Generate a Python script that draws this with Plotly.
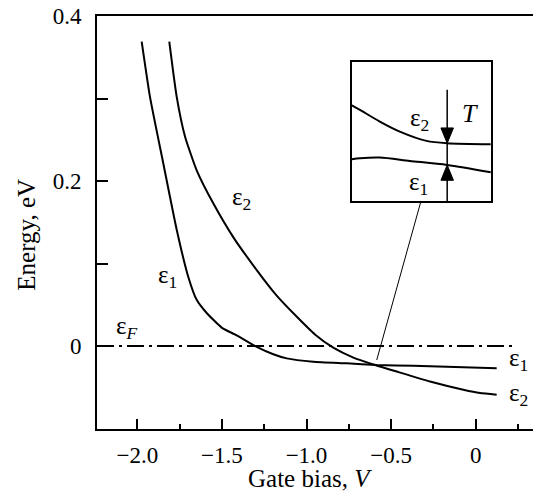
import plotly.graph_objects as go

# ---------------- data ----------------
eps1_x = [-1.974, -1.925, -1.846, -1.767, -1.699, -1.649, -1.590, -1.531, -1.492, -1.413,
          -1.294, -1.196, -1.117, -0.960, -0.762, -0.585, -0.369, 0.124]
eps1_y = [0.369, 0.302, 0.221, 0.141, 0.084, 0.056, 0.040, 0.028, 0.021, 0.013,
          -0.001, -0.010, -0.015, -0.019, -0.021, -0.023, -0.024, -0.027]

eps2_x = [-1.811, -1.767, -1.718, -1.649, -1.551, -1.433, -1.294, -1.180, -1.060, -0.950,
          -0.842, -0.723, -0.595, -0.467, -0.270, -0.073, 0.025, 0.124]
eps2_y = [0.369, 0.302, 0.254, 0.213, 0.173, 0.132, 0.092, 0.062, 0.036, 0.014,
          -0.002, -0.014, -0.023, -0.031, -0.043, -0.053, -0.057, -0.059]

fermi_x = [-2.238, 0.243]
fermi_y = [0.0, 0.0]

# inset (schematic magnification near the anticrossing), unit coordinates
inset_eps2_x = [0.0, 0.058, 0.201, 0.345, 0.537, 0.686, 1.0]
inset_eps2_y = [0.688, 0.655, 0.571, 0.499, 0.432, 0.415, 0.408]
inset_eps1_x = [0.0, 0.058, 0.201, 0.417, 0.686, 1.0]
inset_eps1_y = [0.300, 0.307, 0.312, 0.288, 0.259, 0.206]
inset_T_x = 0.686
inset_T_top = 0.80
inset_T_bottom = 0.0
inset_T_eps2 = 0.415
inset_T_eps1 = 0.259

# leader line from the crossing point to the inset
leader_x = [-0.585, -0.323]
leader_y = [-0.017, 0.176]

x_tickvals = [-2.0, -1.5, -1.0, -0.5, 0.0]
x_ticktext = ["\u22122.0", "\u22121.5", "\u22121.0", "\u22120.5", "0"]
y_tickvals = [0.0, 0.2, 0.4]
y_ticktext = ["0", "0.2", "0.4"]

x_range = [-2.2381, 0.3859]
y_range = [-0.1006, 0.4]

FONT = "Liberation Serif, Times New Roman, serif"
W = 2

fig = go.Figure()

line = dict(color="black", width=W)
fig.add_trace(go.Scatter(x=eps1_x, y=eps1_y, mode="lines", line=dict(line, shape="spline", smoothing=0.5),
                         hoverinfo="skip", showlegend=False))
fig.add_trace(go.Scatter(x=eps2_x, y=eps2_y, mode="lines", line=dict(line, shape="spline", smoothing=0.5),
                         hoverinfo="skip", showlegend=False))
fig.add_trace(go.Scatter(x=fermi_x, y=fermi_y, mode="lines",
                         line=dict(color="black", width=W, dash="17px,5px,3px,5px"),
                         hoverinfo="skip", showlegend=False))
fig.add_trace(go.Scatter(x=leader_x, y=leader_y, mode="lines", line=dict(color="black", width=1),
                         hoverinfo="skip", showlegend=False))

# inset traces
fig.add_trace(go.Scatter(x=inset_eps2_x, y=inset_eps2_y, mode="lines", xaxis="x2", yaxis="y2",
                         line=dict(line, shape="spline", smoothing=0.8), hoverinfo="skip", showlegend=False))
fig.add_trace(go.Scatter(x=inset_eps1_x, y=inset_eps1_y, mode="lines", xaxis="x2", yaxis="y2",
                         line=dict(line, shape="spline", smoothing=0.8), hoverinfo="skip", showlegend=False))
fig.add_trace(go.Scatter(x=[inset_T_x, inset_T_x], y=[inset_T_bottom, inset_T_top], mode="lines",
                         xaxis="x2", yaxis="y2", line=dict(color="black", width=1.5),
                         hoverinfo="skip", showlegend=False))

# arrowheads as filled triangles (inset unit coords)
hw, hl = 0.045, 0.11
fig.add_shape(type="path", xref="x2", yref="y2",
              path=f"M {inset_T_x},{inset_T_eps2} L {inset_T_x-hw},{inset_T_eps2+hl} L {inset_T_x+hw},{inset_T_eps2+hl} Z",
              fillcolor="black", line=dict(color="black", width=1))
fig.add_shape(type="path", xref="x2", yref="y2",
              path=f"M {inset_T_x},{inset_T_eps1} L {inset_T_x-hw},{inset_T_eps1-hl} L {inset_T_x+hw},{inset_T_eps1-hl} Z",
              fillcolor="black", line=dict(color="black", width=1))


def ann(x, y, text, xref="x", yref="y", size=25, xanchor="center", yanchor="middle", angle=0):
    fig.add_annotation(x=x, y=y, xref=xref, yref=yref, text=text, showarrow=False,
                       xanchor=xanchor, yanchor=yanchor, textangle=angle,
                       font=dict(family=FONT, size=size, color="black"))


ann(-1.383, 0.179, "ε<sub>2</sub>")
ann(-1.823, 0.084, "ε<sub>1</sub>")
ann(-2.063, 0.023, "ε<sub><i>F</i></sub>")
ann(0.185, -0.016, "ε<sub>1</sub>", xanchor="left")
ann(0.185, -0.059, "ε<sub>2</sub>", xanchor="left")
ann(0.489, 0.583, "ε<sub>2</sub>", "x2", "y2")
ann(0.477, 0.127, "ε<sub>1</sub>", "x2", "y2")
ann(0.849, 0.631, "<i>T</i>", "x2", "y2", size=26)

# axis titles
ann(0.48, -0.12, "Gate bias, <i>V</i>", "paper", "paper", size=25)
ann(-0.158, 0.47, "Energy, eV", "paper", "paper", size=25, angle=-90)

# page body has an 8px default margin, so the figure is 8px smaller than the window
fig.update_layout(
    width=533, height=496,
    margin=dict(l=89, r=0, t=8, b=75),
    paper_bgcolor="white", plot_bgcolor="white",
    font=dict(family=FONT, size=23, color="black"),
    xaxis=dict(range=x_range, showgrid=False, zeroline=False, automargin=False,
               showline=True, linecolor="black", linewidth=W, mirror=True,
               ticks="inside", ticklen=10, tickwidth=1.5, tickcolor="black",
               tickvals=x_tickvals, ticktext=x_ticktext, ticklabeloverflow="allow",
               minor=dict(dtick=0.25, tick0=0, ticks="inside", ticklen=5, tickwidth=1.5, tickcolor="black", showgrid=False),
               ticklabelstandoff=4),
    yaxis=dict(range=y_range, showgrid=False, zeroline=False, automargin=False,
               showline=True, linecolor="black", linewidth=W, mirror=False,
               ticks="inside", ticklen=11, tickwidth=1.5, tickcolor="black",
               tickvals=y_tickvals, ticktext=y_ticktext, ticklabeloverflow="allow",
               minor=dict(dtick=0.1, tick0=0, ticks="inside", ticklen=11, tickwidth=1.5, tickcolor="black", showgrid=False),
               ticklabelstandoff=9),
    xaxis2=dict(domain=[0.574, 0.887], anchor="y2", range=[0, 1], showgrid=False, zeroline=False, automargin=False,
                showticklabels=False, ticks="", showline=True, mirror=True, linecolor="black", linewidth=W),
    yaxis2=dict(domain=[0.552, 0.889], anchor="x2", range=[0, 1], showgrid=False, zeroline=False, automargin=False,
                showticklabels=False, ticks="", showline=True, mirror=True, linecolor="black", linewidth=W),
)

fig.write_html("out.html")
